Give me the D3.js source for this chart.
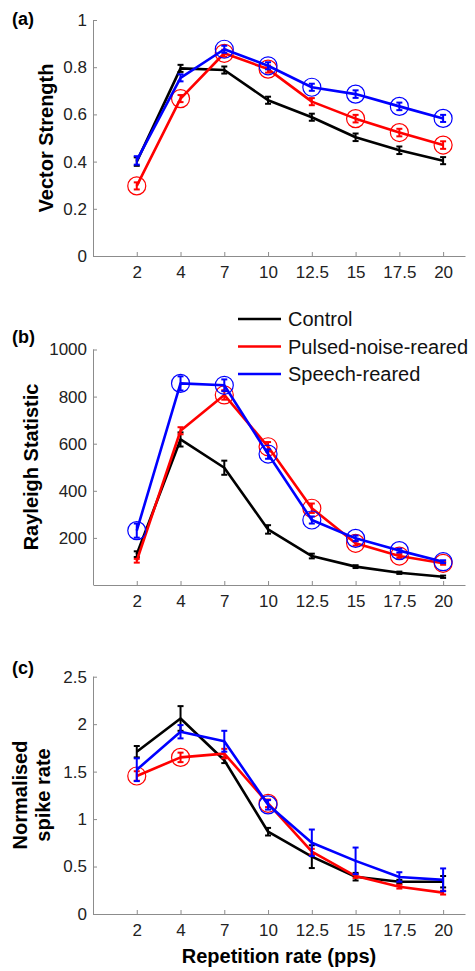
<html>
<head>
  <meta charset="utf-8">
  <script src="https://d3js.org/d3.v7.min.js"></script>
  <style>
    body { margin: 0; background: #fff; }
    text { font-family: "Liberation Sans", Arial, sans-serif; }
  </style>
</head>
<body>
  <svg id="chart" width="475" height="971"></svg>
<script>
  // categories (repetition rate, pps)
  var categories = ["2", "4", "7", "10", "12.5", "15", "17.5", "20"];
  var seriesNames = ["Control", "Pulsed-noise-reared", "Speech-reared"];
  var seriesColors = ["#000000", "#ff0000", "#0000ff"];

  // (a) vector strength
  var vsControl = [0.40, 0.795, 0.788, 0.66, 0.588, 0.503, 0.448, 0.404];
  var vsControlErr = [0.018, 0.015, 0.015, 0.015, 0.015, 0.016, 0.016, 0.015];
  var vsPulsed = [0.297, 0.667, 0.859, 0.792, 0.654, 0.582, 0.523, 0.47];
  var vsPulsedErr = [0.015, 0.015, 0.015, 0.015, 0.015, 0.016, 0.016, 0.016];
  var vsSpeech = [0.405, 0.755, 0.876, 0.806, 0.715, 0.686, 0.634, 0.583];
  var vsSpeechErr = [0.018, 0.015, 0.015, 0.015, 0.015, 0.016, 0.016, 0.015];
  var vsPulsedSig = [1, 1, 1, 1, 0, 1, 1, 1];
  var vsSpeechSig = [0, 0, 1, 1, 1, 1, 1, 1];
  var vsTicks = [0, 0.2, 0.4, 0.6, 0.8, 1];

  // (b) Rayleigh statistic
  var rsControl = [131, 618, 498, 236, 123, 78, 52, 35];
  var rsControlErr = [12, 30, 30, 18, 10, 6, 5, 5];
  var rsPulsed = [103, 655, 807, 587, 326, 177, 123, 92];
  var rsPulsedErr = [8, 15, 20, 20, 20, 10, 8, 6];
  var rsSpeech = [231, 856, 848, 556, 276, 198, 146, 99];
  var rsSpeechErr = [30, 30, 25, 20, 15, 12, 8, 6];
  var rsPulsedSig = [0, 0, 1, 1, 1, 1, 1, 1];
  var rsSpeechSig = [1, 1, 1, 1, 1, 1, 1, 1];
  var rsTicks = [200, 400, 600, 800, 1000];

  // (c) normalised spike rate
  var srControl = [1.71, 2.06, 1.62, 0.867, 0.604, 0.393, 0.34, 0.34];
  var srControlErr = [0.06, 0.13, 0.03, 0.04, 0.12, 0.04, 0.02, 0.06];
  var srPulsed = [1.454, 1.65, 1.69, 1.166, 0.657, 0.40, 0.288, 0.225];
  var srPulsedErr = [0.05, 0.05, 0.05, 0.04, 0.03, 0.02, 0.02, 0.02];
  var srSpeech = [1.52, 1.92, 1.82, 1.15, 0.75, 0.56, 0.39, 0.36];
  var srSpeechErr = [0.12, 0.07, 0.11, 0.05, 0.14, 0.14, 0.05, 0.12];
  var srPulsedSig = [1, 1, 0, 1, 0, 0, 0, 0];
  var srSpeechSig = [0, 0, 0, 1, 0, 0, 0, 0];
  var srTicks = [0, 0.5, 1, 1.5, 2, 2.5];

  var svg = d3.select("#chart");
  var x = d3.scaleLinear().domain([0, 8.5]).range([93, 465]);
  var axisGrey = "#8c8c8c";

  function drawPanel(cfg) {
    var y = d3.scaleLinear().domain(cfg.domain).range(cfg.range);
    var g = svg.append("g");

    // axes (MATLAB style, ticks pointing inward)
    var ya = g.append("g").attr("transform", "translate(" + x.range()[0] + ",0)")
      .call(d3.axisLeft(y).tickValues(cfg.ticks).tickSizeInner(-4).tickSizeOuter(0)
        .tickPadding(6).tickFormat(cfg.fmt));
    var xa = g.append("g").attr("transform", "translate(0," + cfg.range[0] + ")")
      .call(d3.axisBottom(x).tickValues(d3.range(1, 9)).tickSizeInner(-4).tickSizeOuter(0)
        .tickPadding(10).tickFormat(function(i) { return categories[i - 1]; }));
    [ya, xa].forEach(function(a) {
      a.select(".domain").attr("stroke", axisGrey);
      a.selectAll(".tick line").attr("stroke", axisGrey);
      a.selectAll("text").attr("fill", "#222").style("font-size", "17px")
        .style("font-family", "'Liberation Sans', Arial, sans-serif");
    });
    ya.select(".domain").attr("d", "M0.5," + cfg.range[0] + "V" + cfg.range[1]);

    var line = d3.line().x(function(d, i) { return x(i + 1); }).y(function(d) { return y(d); });

    cfg.series.forEach(function(s, k) {
      var col = seriesColors[k];
      g.append("path").datum(s.v).attr("d", line)
        .attr("fill", "none").attr("stroke", col).attr("stroke-width", 2.6)
        .attr("stroke-linejoin", "round");
      var eb = g.append("g").selectAll("g").data(s.v).enter().append("g");
      eb.append("line")
        .attr("x1", function(d, i) { return x(i + 1); }).attr("x2", function(d, i) { return x(i + 1); })
        .attr("y1", function(d, i) { return y(d - s.e[i]); }).attr("y2", function(d, i) { return y(d + s.e[i]); })
        .attr("stroke", col).attr("stroke-width", 2);
      [-1, 1].forEach(function(sgn) {
        eb.append("line")
          .attr("x1", function(d, i) { return x(i + 1) - 3; }).attr("x2", function(d, i) { return x(i + 1) + 3; })
          .attr("y1", function(d, i) { return y(d + sgn * s.e[i]); })
          .attr("y2", function(d, i) { return y(d + sgn * s.e[i]); })
          .attr("stroke", col).attr("stroke-width", 2);
      });
      if (s.sig) {
        g.append("g").selectAll("circle")
          .data(s.v.map(function(d, i) { return { v: d, i: i }; }).filter(function(d) { return s.sig[d.i]; }))
          .enter().append("circle")
          .attr("cx", function(d) { return x(d.i + 1); })
          .attr("cy", function(d) { return y(d.v); })
          .attr("r", 9).attr("fill", "none").attr("stroke", col).attr("stroke-width", 1.2);
      }
    });

    // panel letter
    svg.append("text").attr("x", 12).attr("y", cfg.letterY)
      .style("font-size", "18px").style("font-weight", "bold").text(cfg.letter);

    // y label
    cfg.ylabel.forEach(function(t, j) {
      svg.append("text")
        .attr("transform", "translate(" + cfg.ylabelX[j] + "," + cfg.ylabelY + ") rotate(-90)")
        .attr("text-anchor", "middle")
        .style("font-size", "20px").style("font-weight", "bold").text(t);
    });
  }

  drawPanel({
    domain: [0, 1], range: [256, 20], ticks: vsTicks, fmt: d3.format("~g"),
    series: [
      { v: vsControl, e: vsControlErr },
      { v: vsPulsed, e: vsPulsedErr, sig: vsPulsedSig },
      { v: vsSpeech, e: vsSpeechErr, sig: vsSpeechSig }
    ],
    letter: "(a)", letterY: 25, ylabel: ["Vector Strength"], ylabelX: [52.5], ylabelY: 138
  });

  drawPanel({
    domain: [0, 1000], range: [585, 349.5], ticks: rsTicks, fmt: d3.format("d"),
    series: [
      { v: rsControl, e: rsControlErr },
      { v: rsPulsed, e: rsPulsedErr, sig: rsPulsedSig },
      { v: rsSpeech, e: rsSpeechErr, sig: rsSpeechSig }
    ],
    letter: "(b)", letterY: 343, ylabel: ["Rayleigh Statistic"], ylabelX: [37.5], ylabelY: 467
  });

  drawPanel({
    domain: [0, 2.5], range: [914, 676.7], ticks: srTicks, fmt: d3.format("~g"),
    series: [
      { v: srControl, e: srControlErr },
      { v: srPulsed, e: srPulsedErr, sig: srPulsedSig },
      { v: srSpeech, e: srSpeechErr, sig: srSpeechSig }
    ],
    letter: "(c)", letterY: 674, ylabel: ["Normalised", "spike rate"], ylabelX: [27, 49.5], ylabelY: 795
  });

  // x title
  svg.append("text").attr("x", 279).attr("y", 962.5).attr("text-anchor", "middle")
    .style("font-size", "20px").style("font-weight", "bold").text("Repetition rate (pps)");

  // legend
  var legY = [319, 346.5, 374];
  var leg = svg.append("g").selectAll("g").data(seriesNames).enter().append("g")
    .attr("transform", function(d, i) { return "translate(0," + legY[i] + ")"; });
  leg.append("line").attr("x1", 238).attr("x2", 281).attr("y1", 0).attr("y2", 0)
    .attr("stroke", function(d, i) { return seriesColors[i]; }).attr("stroke-width", 2.6);
  leg.append("text").attr("x", 288).attr("y", 0).attr("dy", "0.36em")
    .style("font-size", "20px").attr("fill", "#111").text(function(d) { return d; });
</script>
</body>
</html>
